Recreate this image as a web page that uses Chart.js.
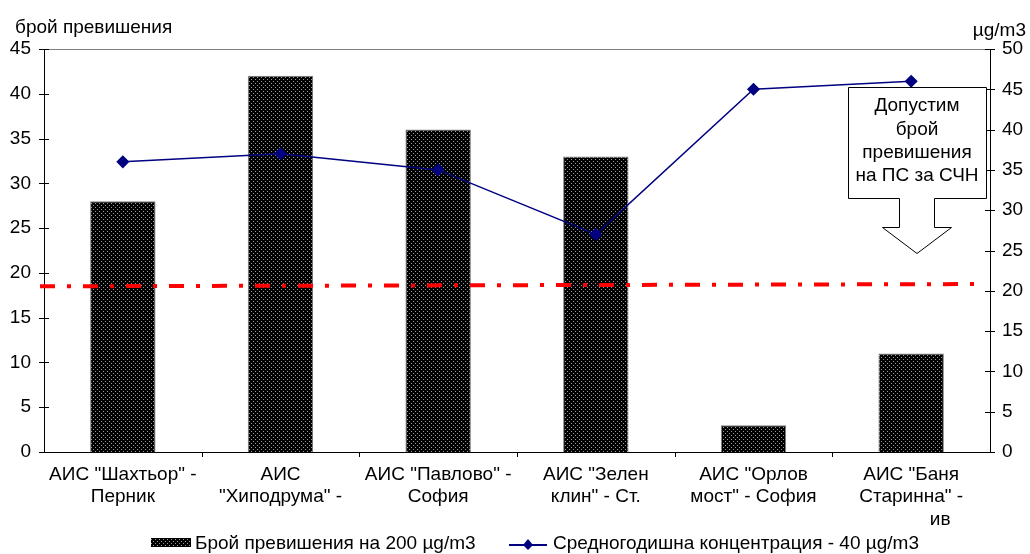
<!DOCTYPE html>
<html>
<head>
<meta charset="utf-8">
<script src="https://cdn.jsdelivr.net/npm/chart.js@4/dist/chart.umd.min.js"></script>
<style>
  html, body { margin: 0; padding: 0; background: #fff; }
  #wrap { width: 1030px; height: 554px; position: relative; }
</style>
</head>
<body>
<div id="wrap"><canvas id="chart" width="1030" height="554"></canvas></div>
<script>
const stations = [
    ['АИС "Шахтьор" -', 'Перник'],
    ['АИС', '"Хиподрума" -'],
    ['АИС "Павлово" -', 'София'],
    ['АИС "Зелен', 'клин" - Ст.'],
    ['АИС "Орлов', 'мост" - София'],
    ['АИС "Баня', 'Старинна" -', '           ив']
];
const exceedances = [28, 42, 36, 33, 3, 11];
const annualMean = [36, 37, 35, 27, 45, 46];
const limitLine = [18.5, 18.75];
const leftTicks = { min: 0, max: 45, step: 5 };
const rightTicks = { min: 0, max: 50, step: 5 };
const barLabel = 'Брой превишения на 200 µg/m3';
const lineLabel = 'Средногодишна концентрация - 40 µg/m3';
const calloutLines = ['Допустим', 'брой', 'превишения', 'на ПС за СЧН'];

const FONT = '"Liberation Sans", Arial, sans-serif';
const FS = 19;
Chart.defaults.font.family = FONT;
Chart.defaults.font.size = FS;
Chart.defaults.color = '#000';

// dotted fill like the old Excel pattern
const makePattern = () => {
    const c = document.createElement('canvas');
    c.width = 4; c.height = 4;
    const g = c.getContext('2d');
    g.fillStyle = '#000';
    g.fillRect(0, 0, 4, 4);
    g.fillStyle = '#9a9a9a';
    g.fillRect(1, 1, 1, 1);
    g.fillRect(3, 3, 1, 1);
    return g.createPattern(c, 'repeat');
};
const pattern = makePattern();

const decorations = {
    id: 'decorations',
    afterDatasetsDraw(chart) {
        const { ctx, chartArea: a, scales } = chart;
        const y = scales.y, y1 = scales.y1;
        ctx.save();

        // frame
        ctx.lineWidth = 1;
        ctx.strokeStyle = '#808080';
        ctx.beginPath();
        ctx.moveTo(a.left, a.top + 0.5);
        ctx.lineTo(a.right, a.top + 0.5);
        ctx.stroke();
        ctx.strokeStyle = '#000';
        ctx.beginPath();
        ctx.moveTo(a.left + 0.5, a.top);
        ctx.lineTo(a.left + 0.5, a.bottom);
        ctx.moveTo(a.right + 0.5, a.top);
        ctx.lineTo(a.right + 0.5, a.bottom);
        ctx.moveTo(a.left, a.bottom + 0.5);
        ctx.lineTo(a.right, a.bottom + 0.5);
        y.ticks.forEach(t => {
            const py = Math.round(y.getPixelForValue(t.value)) + 0.5;
            ctx.moveTo(a.left - 5, py);
            ctx.lineTo(a.left + 5, py);
        });
        y1.ticks.forEach(t => {
            const py = Math.round(y1.getPixelForValue(t.value)) + 0.5;
            ctx.moveTo(a.right - 5, py);
            ctx.lineTo(a.right + 5, py);
        });
        const step = (a.right - a.left) / stations.length;
        for (let i = 1; i < stations.length; i++) {
            const px = Math.round(a.left + step * i) + 0.5;
            ctx.moveTo(px, a.bottom);
            ctx.lineTo(px, a.bottom + 5);
        }
        ctx.stroke();

        // limit line (dash-dot)
        ctx.strokeStyle = '#ff0000';
        ctx.lineWidth = 4;
        ctx.setLineDash([15, 12, 4, 12]);
        ctx.beginPath();
        ctx.moveTo(a.left - 4, y.getPixelForValue(limitLine[0]));
        ctx.lineTo(a.right - 15, y.getPixelForValue(limitLine[1]));
        ctx.stroke();
        ctx.setLineDash([]);

        // callout with arrow
        const bx = 848, by = 87, bw = 138, bh = 111;
        ctx.fillStyle = '#fff';
        ctx.strokeStyle = '#000';
        ctx.lineWidth = 1;
        ctx.beginPath();
        ctx.moveTo(bx + 0.5, by + 0.5);
        ctx.lineTo(bx + bw + 0.5, by + 0.5);
        ctx.lineTo(bx + bw + 0.5, by + bh + 0.5);
        ctx.lineTo(934.5, by + bh + 0.5);
        ctx.lineTo(934.5, 227.5);
        ctx.lineTo(951.5, 227.5);
        ctx.lineTo(917, 253.5);
        ctx.lineTo(882.5, 227.5);
        ctx.lineTo(899.5, 227.5);
        ctx.lineTo(899.5, by + bh + 0.5);
        ctx.lineTo(bx + 0.5, by + bh + 0.5);
        ctx.closePath();
        ctx.fill();
        ctx.stroke();
        ctx.fillStyle = '#000';
        ctx.font = FS + 'px ' + FONT;
        ctx.textAlign = 'center';
        ctx.textBaseline = 'middle';
        calloutLines.forEach((s, i) => ctx.fillText(s, 917, 106 + i * 23.4));

        // axis titles
        ctx.textAlign = 'left';
        ctx.fillText('брой превишения', 15, 28);
        ctx.textAlign = 'right';
        ctx.fillText('µg/m3', 1026, 31);

        // legend
        const ly = 544;
        ctx.fillStyle = pattern;
        ctx.fillRect(151, 538, 40, 9);
        ctx.fillStyle = '#000';
        ctx.textAlign = 'left';
        ctx.fillText(barLabel, 195, ly);
        ctx.strokeStyle = '#000080';
        ctx.lineWidth = 2;
        ctx.beginPath();
        ctx.moveTo(509, ly + 1);
        ctx.lineTo(547, ly + 1);
        ctx.stroke();
        ctx.fillStyle = '#000080';
        ctx.beginPath();
        ctx.moveTo(528, ly - 5);
        ctx.lineTo(533, ly + 1);
        ctx.lineTo(528, ly + 6);
        ctx.lineTo(523, ly + 1);
        ctx.closePath();
        ctx.fill();
        ctx.fillStyle = '#000';
        ctx.fillText(lineLabel, 553, ly);
        ctx.restore();
    }
};

new Chart(document.getElementById('chart'), {
    data: {
        labels: stations,
        datasets: [
            {
                type: 'line',
                label: lineLabel,
                data: annualMean,
                yAxisID: 'y1',
                borderColor: '#000080',
                backgroundColor: '#000080',
                borderWidth: 1.5,
                pointStyle: 'rectRot',
                pointRadius: 5.5,
                pointHoverRadius: 5.5,
                tension: 0,
                order: 0
            },
            {
                type: 'bar',
                label: barLabel,
                data: exceedances,
                yAxisID: 'y',
                backgroundColor: pattern,
                borderColor: '#7f7f7f',
                borderWidth: 1,
                barPercentage: 0.415,
                categoryPercentage: 1,
                order: 1
            }
        ]
    },
    options: {
        responsive: false,
        animation: false,
        layout: { padding: { top: 49, left: 0, right: 0, bottom: 0 } },
        plugins: { legend: { display: false }, tooltip: { enabled: false } },
        scales: {
            x: {
                grid: { display: false, drawTicks: false },
                border: { display: false },
                ticks: { padding: 11, maxRotation: 0, autoSkip: false, font: { size: FS, lineHeight: 1.2 } },
                afterFit: s => { s.height = 102; }
            },
            y: {
                position: 'left',
                min: leftTicks.min, max: leftTicks.max,
                grid: { display: false, drawTicks: false },
                border: { display: false },
                ticks: { stepSize: leftTicks.step, padding: 13 },
                afterFit: s => { s.width = 44; }
            },
            y1: {
                position: 'right',
                min: rightTicks.min, max: rightTicks.max,
                grid: { display: false, drawTicks: false },
                border: { display: false },
                ticks: { stepSize: rightTicks.step, padding: 12 },
                afterFit: s => { s.width = 40; }
            }
        }
    },
    plugins: [decorations]
});
</script>
</body>
</html>
